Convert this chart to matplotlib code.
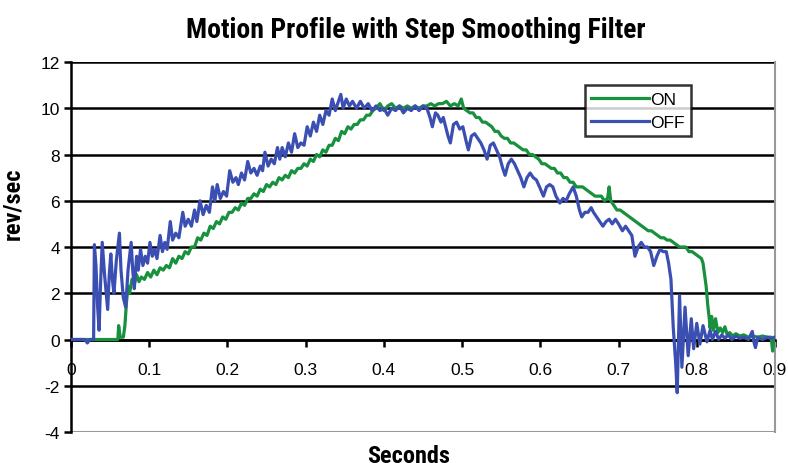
import matplotlib
matplotlib.use("Agg")
from matplotlib import pyplot as plt

# (seconds, rev/sec)
on_t = [0.000, 0.060, 0.061, 0.063, 0.067, 0.069, 0.071, 0.073, 0.075, 0.078,
        0.081, 0.084, 0.087, 0.090, 0.094, 0.098, 0.102, 0.106, 0.110, 0.114,
        0.118, 0.122, 0.126, 0.130, 0.134, 0.138, 0.142, 0.146, 0.150, 0.154,
        0.158, 0.162, 0.166, 0.170, 0.174, 0.178, 0.182, 0.186, 0.190, 0.194,
        0.198, 0.202, 0.206, 0.210, 0.214, 0.218, 0.222, 0.226, 0.230, 0.234,
        0.238, 0.242, 0.246, 0.250, 0.254, 0.258, 0.262, 0.266, 0.270, 0.274,
        0.278, 0.282, 0.286, 0.290, 0.294, 0.298, 0.302, 0.306, 0.310, 0.314,
        0.318, 0.322, 0.326, 0.330, 0.334, 0.338, 0.342, 0.346, 0.350, 0.354,
        0.358, 0.362, 0.366, 0.370, 0.374, 0.378, 0.382, 0.386, 0.390, 0.395,
        0.400, 0.405, 0.410, 0.415, 0.420, 0.425, 0.430, 0.435, 0.440, 0.445,
        0.450, 0.455, 0.460, 0.465, 0.470, 0.475, 0.480, 0.485, 0.490, 0.495,
        0.499, 0.502, 0.506, 0.510, 0.514, 0.518, 0.522, 0.526, 0.530, 0.534,
        0.538, 0.542, 0.546, 0.550, 0.554, 0.558, 0.562, 0.566, 0.570, 0.574,
        0.578, 0.582, 0.586, 0.590, 0.594, 0.598, 0.602, 0.606, 0.610, 0.614,
        0.618, 0.622, 0.626, 0.630, 0.634, 0.638, 0.642, 0.646, 0.650, 0.654,
        0.658, 0.662, 0.666, 0.670, 0.674, 0.678, 0.682, 0.686, 0.688, 0.690,
        0.694, 0.698, 0.702, 0.706, 0.710, 0.714, 0.718, 0.722, 0.726, 0.730,
        0.734, 0.738, 0.742, 0.746, 0.750, 0.754, 0.758, 0.762, 0.766, 0.770,
        0.774, 0.778, 0.782, 0.786, 0.790, 0.794, 0.798, 0.802, 0.806, 0.808,
        0.810, 0.812, 0.814, 0.816, 0.817, 0.819, 0.821, 0.824, 0.827, 0.830,
        0.833, 0.836, 0.839, 0.842, 0.846, 0.850, 0.855, 0.860, 0.866, 0.872,
        0.878, 0.884, 0.890, 0.895, 0.897, 0.899, 0.900]
on_v = [0.0, 0.0, 0.6, 0.1, 0.1, 0.6, 1.6, 2.3, 2.0, 2.6,
        2.4, 2.8, 2.5, 2.7, 2.6, 2.9, 2.7, 3.0, 2.8, 3.1,
        3.0, 3.2, 3.1, 3.5, 3.3, 3.6, 3.5, 3.8, 3.7, 4.0,
        4.0, 4.4, 4.3, 4.6, 4.5, 4.9, 4.8, 5.1, 5.0, 5.3,
        5.2, 5.5, 5.5, 5.7, 5.6, 5.9, 5.8, 6.1, 6.1, 6.3,
        6.2, 6.5, 6.4, 6.7, 6.6, 6.8, 6.7, 7.0, 6.9, 7.1,
        7.0, 7.3, 7.2, 7.4, 7.4, 7.6, 7.5, 7.8, 7.7, 8.0,
        7.9, 8.2, 8.1, 8.4, 8.4, 8.7, 8.6, 9.0, 8.9, 9.2,
        9.1, 9.3, 9.3, 9.5, 9.5, 9.7, 9.7, 9.9, 10.0, 10.2,
        9.9, 10.1, 10.2, 10.0, 10.1, 10.0, 10.1, 10.0, 10.1, 10.0,
        10.1, 10.1, 10.2, 10.1, 10.2, 10.2, 10.3, 10.1, 10.2, 10.1,
        10.4, 10.0, 9.9, 9.8, 9.8, 9.6, 9.6, 9.4, 9.4, 9.3,
        9.2, 9.0, 9.0, 8.8, 8.7, 8.7, 8.5, 8.5, 8.4, 8.3,
        8.2, 8.2, 8.0, 8.0, 7.9, 7.8, 7.6, 7.6, 7.5, 7.4,
        7.4, 7.2, 7.2, 7.0, 7.0, 6.8, 6.8, 6.6, 6.6, 6.6,
        6.5, 6.4, 6.3, 6.2, 6.2, 6.2, 6.0, 6.1, 6.6, 6.0,
        5.8, 5.6, 5.6, 5.5, 5.4, 5.3, 5.2, 5.1, 5.0, 4.9,
        4.8, 4.7, 4.7, 4.6, 4.5, 4.4, 4.4, 4.3, 4.3, 4.2,
        4.1, 4.0, 4.0, 4.0, 3.8, 3.8, 3.7, 3.6, 3.5, 3.3,
        2.8, 2.3, 1.5, 0.9, 0.5, 1.0, 0.4, 0.9, 0.3, 0.5,
        0.3, 0.55, 0.2, 0.3, 0.15, 0.25, 0.15, 0.2, 0.1, 0.15,
        0.1, 0.15, 0.1, 0.1, -0.5, 0.1, 0.1]

off_t = [0.000, 0.018, 0.021, 0.024, 0.029, 0.030, 0.032, 0.034, 0.036, 0.038,
         0.040, 0.043, 0.047, 0.049, 0.051, 0.053, 0.055, 0.058, 0.062, 0.064,
         0.067, 0.070, 0.073, 0.077, 0.079, 0.081, 0.084, 0.086, 0.089, 0.092,
         0.095, 0.098, 0.101, 0.104, 0.107, 0.110, 0.114, 0.117, 0.120, 0.123,
         0.127, 0.130, 0.134, 0.138, 0.143, 0.146, 0.150, 0.154, 0.158, 0.161,
         0.165, 0.169, 0.173, 0.177, 0.181, 0.184, 0.187, 0.191, 0.195, 0.199,
         0.203, 0.207, 0.211, 0.214, 0.218, 0.222, 0.226, 0.230, 0.234, 0.238,
         0.242, 0.245, 0.248, 0.252, 0.256, 0.260, 0.264, 0.267, 0.270, 0.274,
         0.278, 0.282, 0.286, 0.290, 0.294, 0.298, 0.302, 0.306, 0.310, 0.314,
         0.318, 0.322, 0.326, 0.330, 0.334, 0.338, 0.342, 0.345, 0.348, 0.352,
         0.356, 0.360, 0.365, 0.370, 0.375, 0.380, 0.385, 0.390, 0.395, 0.400,
         0.405, 0.410, 0.415, 0.420, 0.425, 0.430, 0.435, 0.440, 0.445, 0.450,
         0.455, 0.459, 0.462, 0.466, 0.469, 0.473, 0.476, 0.479, 0.482, 0.485,
         0.489, 0.493, 0.497, 0.501, 0.505, 0.508, 0.512, 0.516, 0.520, 0.524,
         0.528, 0.532, 0.536, 0.540, 0.544, 0.548, 0.552, 0.555, 0.559, 0.563,
         0.567, 0.571, 0.575, 0.579, 0.583, 0.587, 0.591, 0.595, 0.599, 0.604,
         0.608, 0.612, 0.616, 0.620, 0.625, 0.629, 0.633, 0.637, 0.642, 0.646,
         0.650, 0.653, 0.657, 0.661, 0.665, 0.668, 0.672, 0.676, 0.680, 0.684,
         0.688, 0.692, 0.696, 0.700, 0.705, 0.709, 0.713, 0.717, 0.721, 0.725,
         0.729, 0.733, 0.737, 0.741, 0.745, 0.749, 0.753, 0.757, 0.761, 0.764,
         0.767, 0.770, 0.773, 0.775, 0.778, 0.781, 0.785, 0.789, 0.793, 0.796,
         0.800, 0.804, 0.808, 0.813, 0.817, 0.820, 0.824, 0.828, 0.832, 0.836,
         0.840, 0.845, 0.850, 0.855, 0.860, 0.866, 0.871, 0.873, 0.875, 0.878,
         0.884, 0.890, 0.895, 0.900]
off_v = [0.0, 0.0, -0.15, 0.0, 0.0, 4.1, 3.2, 1.5, 0.4, 2.5,
         4.2, 2.8, 1.3, 2.8, 3.7, 2.6, 2.0, 3.4, 4.6, 3.0,
         1.8, 1.4, 3.0, 4.2, 3.0, 2.2, 3.6, 3.0, 3.9, 3.2,
         3.6, 3.3, 4.2, 3.6, 3.9, 3.5, 4.5, 3.8, 4.2, 3.9,
         5.1, 4.3, 4.6, 4.4, 5.5, 4.9, 5.2, 4.9, 5.6, 5.1,
         6.0, 5.4, 5.8, 5.5, 6.6, 6.0, 6.7, 6.1, 6.4, 6.2,
         7.3, 6.8, 7.0, 6.7, 7.2, 6.9, 7.7, 7.2, 7.4, 7.1,
         7.5, 7.3, 8.1, 7.5, 7.8, 7.6, 8.3, 7.8, 8.3, 7.9,
         8.5, 8.1, 8.9, 8.3, 8.5, 8.4, 9.2, 8.8, 9.4, 9.0,
         9.7, 9.3, 9.9, 9.7, 10.4, 9.9, 10.3, 10.6, 10.0, 10.4,
         10.1, 10.3, 10.0, 10.3, 10.0, 10.2, 9.9, 10.1, 9.9, 10.0,
         9.7, 10.0, 9.9, 10.1, 9.8, 10.0, 9.9, 10.1, 9.9, 10.1,
         10.0, 9.6, 9.2, 9.8, 9.7, 9.4, 9.6, 9.2, 8.8, 8.5,
         9.3, 9.4, 9.1, 9.2, 8.6, 8.2, 8.8, 8.9, 8.7, 8.5,
         8.2, 7.8, 8.4, 8.5, 8.2, 7.9, 7.4, 7.1, 7.6, 7.8,
         7.6, 7.3, 7.0, 6.6, 7.0, 7.2, 7.0, 6.9, 6.6, 6.2,
         6.6, 6.7, 6.6, 6.2, 5.9, 6.1, 6.0, 6.3, 6.6, 6.2,
         5.6, 5.3, 5.5, 5.5, 5.7, 5.5, 5.3, 5.1, 4.9, 5.1,
         5.2, 5.0, 5.2, 5.0, 4.7, 4.9, 4.7, 4.5, 3.6, 4.0,
         4.2, 4.0, 4.0, 3.8, 3.2, 3.6, 3.9, 3.8, 3.8, 3.3,
         2.6, 0.5, -1.0, -2.3, 1.9, -1.2, 1.4, -0.7, 0.9, -0.4,
         0.7, -0.2, 0.6, -0.1, 0.4, 0.0, 0.35, 0.0, 0.2, 0.05,
         0.2, 0.0, 0.15, 0.05, 0.1, 0.0, 0.35, -0.1, -0.35, 0.1,
         0.0, 0.1, 0.05, 0.1]

y_ticks = [-4, -2, 0, 2, 4, 6, 8, 10, 12]
x_ticks = [0, 0.1, 0.2, 0.3, 0.4, 0.5, 0.6, 0.7, 0.8, 0.9]
x_labels = ["0", "0.1", "0.2", "0.3", "0.4", "0.5", "0.6", "0.7", "0.8", "0.9"]

plt.rcParams["font.family"] = ["Liberation Sans", "Arimo", "DejaVu Sans"]
plt.rcParams["axes.unicode_minus"] = False
narrow = ["Roboto Condensed", "Archivo Narrow", "IBM Plex Sans Condensed", "DejaVu Sans"]

fig = plt.figure(figsize=(7.88, 4.64), dpi=100)
ax = fig.add_axes([0.090, 0.0668, 0.8935, 0.7974])

for y in y_ticks[1:]:
    ax.axhline(y, color="black", lw=1.8, zorder=1)
ax.axhline(-4, color="#999999", lw=1.5, zorder=1)

ax.plot(on_t, on_v, color="#17913d", lw=2.3, label="ON", zorder=3)
ax.plot(off_t, off_v, color="#3b4fb3", lw=2.3, label="OFF", zorder=4)

ax.set_xlim(0, 0.9)
ax.set_ylim(-4, 12)
ax.set_yticks(y_ticks)
ax.set_xticks(x_ticks)
ax.set_xticklabels(x_labels)

ax.spines["bottom"].set_position(("data", 0))
ax.spines["bottom"].set_linewidth(1.8)
ax.spines["left"].set_linewidth(1.8)
ax.spines["top"].set_visible(False)
ax.spines["right"].set_color("#999999")
ax.spines["right"].set_linewidth(1.5)
ax.tick_params(axis="y", direction="out", length=5, width=1.8, labelsize=12.5, pad=3)
ax.tick_params(axis="x", direction="out", length=5, width=1.8, labelsize=12.5, pad=11)

ax.set_title("Motion Profile with Step Smoothing Filter", family=narrow,
             fontweight="black", fontsize=20, pad=18, x=0.49)
ax.set_ylabel("rev/sec", family=narrow, fontweight="black", fontsize=17.5)
ax.yaxis.set_label_coords(-0.066, 0.62)
ax.set_xlabel("Seconds", family=narrow, fontweight="black", fontsize=17.5)
ax.xaxis.set_label_coords(0.48, -0.032)

leg = ax.legend(loc="upper right", bbox_to_anchor=(0.893, 0.96), fontsize=12.5,
                frameon=True, fancybox=False, edgecolor="black", handlelength=3.3,
                handletextpad=0.1, borderpad=0.35, labelspacing=0.45)
leg.get_frame().set_linewidth(1.8)

fig.savefig("out.png", dpi=100)
